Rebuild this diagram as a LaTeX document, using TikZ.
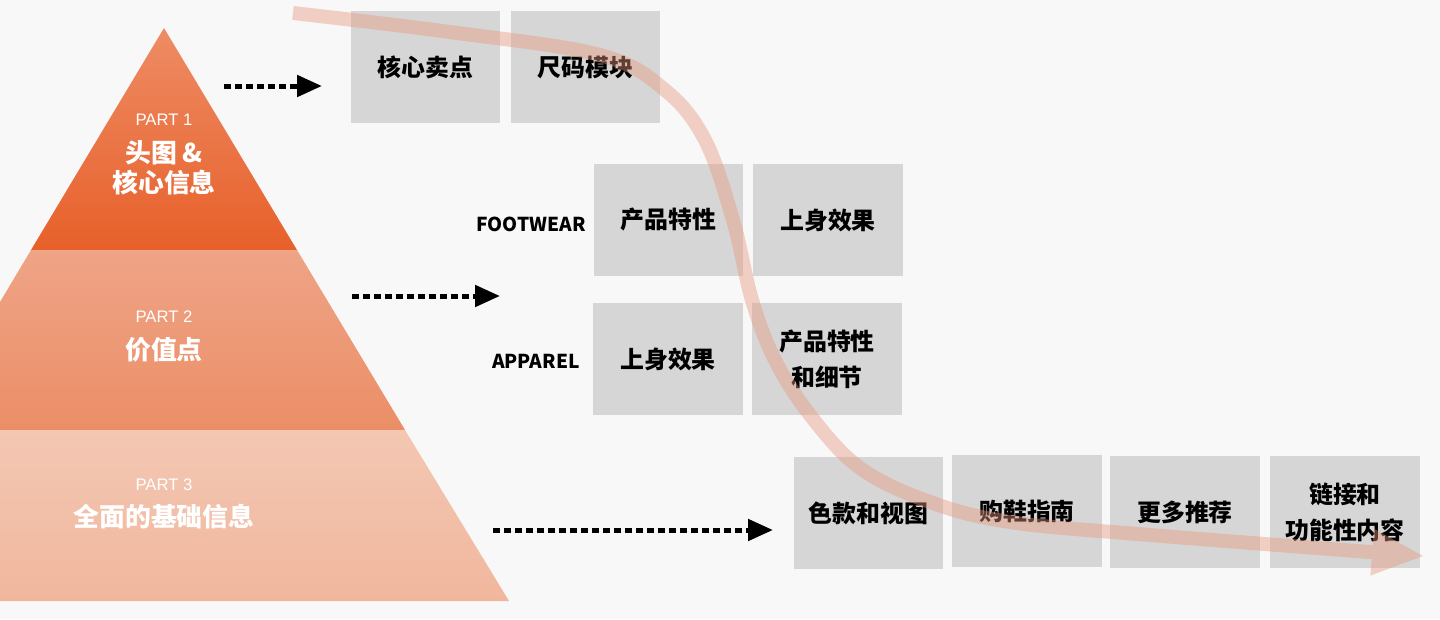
\documentclass[tikz,border=0pt]{standalone}
\usepackage{fontspec}
\usetikzlibrary{arrows.meta}
\newfontfamily\cjk{Noto Sans CJK SC}
\newfontfamily\partfont{Liberation Sans}
\definecolor{bgcol}{HTML}{F8F8F8}
\definecolor{tilecol}{HTML}{D6D6D6}
\definecolor{topa}{HTML}{EE8C64}
\definecolor{topb}{HTML}{E7602A}
\definecolor{mida}{HTML}{EFA486}
\definecolor{midb}{HTML}{EB8E67}
\definecolor{basea}{HTML}{F3C7B3}
\definecolor{baseb}{HTML}{F1B79D}
\definecolor{flowcol}{HTML}{E8967A}

\begin{document}
\begin{tikzpicture}[
    x=0.02cm, y=-0.02cm,
    tile/.style={fill=tilecol, minimum width=\tilew, minimum height=\tileh, inner sep=0pt,
        align=center, font=\cjk\bfseries\fontsize{13.6}{20.6}\selectfont},
    partlabel/.style={text=white, font=\partfont\fontsize{9.5}{11}\selectfont},
    layertitle/.style={text=white, align=center, font=\cjk\bfseries\fontsize{14.7}{17}\selectfont},
    grouplabel/.style={anchor=east, inner sep=0pt, font=\cjk\bfseries\fontsize{10.9}{13}\selectfont},
    dotarrow/.style={line width=0.1cm, dash pattern=on 0.14cm off 0.08cm,
        -{Triangle[length=0.5cm, width=0.42cm]}},
    flow/.style={draw=flowcol, line width=0.28cm,
        -{Triangle[length=1.02cm, width=0.94cm, line width=0pt]}},
]
\def\tilew{3cm}
\def\tileh{2.24cm}

\fill[bgcol] (0,0) rectangle (1440,619);
\useasboundingbox (0,0) rectangle (1440,619);

\shade[top color=topa, bottom color=topb] (164,28) -- (297,250) -- (31,250) -- cycle;
\shade[top color=mida, bottom color=midb] (31,250) -- (297,250) -- (405,430) -- (0,430) -- (0,302) -- cycle;
\shade[top color=basea, bottom color=baseb] (0,430) -- (405,430) -- (509,601) -- (0,601) -- cycle;

\node[partlabel] (part1) at (164,120) {PART 1};
\node[layertitle] (title1) at (164,168) {头图 \&\\核心信息};
\node[partlabel] (part2) at (164,317) {PART 2};
\node[layertitle] (title2) at (164,350) {价值点};
\node[partlabel] (part3) at (164,485) {PART 3};
\node[layertitle] (title3) at (164,517) {全面的基础信息};

\foreach \name/\x/\y/\txt in {
    core/425.5/67/核心卖点,
    size/585.5/67/尺码模块,
    fwa/668.5/220/产品特性,
    fwb/828/220/上身效果,
    apa/668/359/上身效果,
    apb/827/359/{产品特性\\和细节},
    basea/868.5/513/色款和视图,
    baseb/1027/511/购鞋指南,
    basec/1185/512/更多推荐,
    based/1345/512/{链接和\\功能性内容}} {
    \node[tile] (\name) at (\x,\y) {\txt};
}

\node[grouplabel] (footwear) at (586,224) {FOOTWEAR};
\node[grouplabel] (apparel) at (580,361) {APPAREL};

\coordinate (out1) at (224,86);
\coordinate (in1) at (322,86);
\coordinate (out2) at (352,296);
\coordinate (in2) at (500,296);
\coordinate (out3) at (493,530);
\coordinate (in3) at (773,530);
\draw[dotarrow] (out1) -- (in1);
\draw[dotarrow] (out2) -- (in2);
\draw[dotarrow] (out3) -- (in3);

\begin{scope}[transparency group, opacity=0.42]
\draw[flow] plot[smooth, tension=0.6] coordinates {
    (293,13) (450,32) (600,55) (665,90) (705,140) (733,220) (752,300)
    (775,360) (810,415) (860,468) (930,502) (1010,522) (1150,535) (1423,556)};
\end{scope}
\end{tikzpicture}
\end{document}
